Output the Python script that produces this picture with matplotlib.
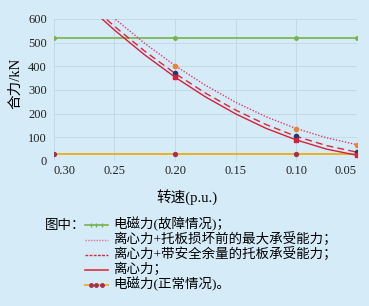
import matplotlib.pyplot as plt
from matplotlib.lines import Line2D

plt.rcParams['font.family'] = ['Liberation Serif', 'Noto Sans CJK SC']

# speed (p.u.) for the curves
speed = [0.27, 0.25, 0.225, 0.20, 0.175, 0.15, 0.125, 0.10, 0.075, 0.05]
centrifugal = [645, 553, 448, 354, 271, 199, 138, 89, 50, 24]
with_margin = [660, 569, 464, 370, 287, 215, 154, 104, 65, 37]
max_capacity = [694, 602, 497, 403, 320, 248, 187, 137, 98, 69]
mark_idx = [3, 7, 9]

# electromagnetic force
em_speed = [0.30, 0.20, 0.10, 0.05]
em_fault = [520, 520, 520, 520]
em_normal = [28, 28, 28, 28]

labels = ['电磁力(故障情况)；',
          '离心力+托板损坏前的最大承受能力；',
          '离心力+带安全余量的托板承受能力；',
          '离心力；',
          '电磁力(正常情况)。']

bg = '#d5ecf8'
green = '#78b24a'
W, H = 369, 306
fig = plt.figure(figsize=(3.69, 3.06), dpi=100, facecolor=bg)
ax = fig.add_axes([0.146, 0.474, 0.821, 0.464], facecolor=bg)

ax.plot(em_speed, em_fault, color=green, lw=1.2, marker='o', ms=2.5, zorder=3)
ax.plot(em_speed, em_normal, color='#f0a800', lw=1.2, marker='o', ms=2.8,
        mfc='#a8304c', mec='#a8304c', zorder=3)
ax.plot(speed, max_capacity, color='#d8406a', lw=1.0, ls=(0, (1, 1.2)),
        marker='o', ms=3, mfc='#e8823a', mec='#e8823a', markevery=mark_idx, zorder=4)
ax.plot(speed, with_margin, color='#d42a3c', lw=1.0, ls=(0, (5, 3)),
        marker='o', ms=3, mfc='#203a6e', mec='#203a6e', markevery=mark_idx, zorder=4)
ax.plot(speed, centrifugal, color='#d4203a', lw=1.0,
        marker='s', ms=3, mfc='#d4203a', mec='#d4203a', markevery=mark_idx, zorder=4)

ax.set_xlim(0.30, 0.05)
ax.set_ylim(0, 600)
ax.set_xticks([0.30, 0.25, 0.20, 0.15, 0.10, 0.05])
ax.set_xticklabels(['0.30', '0.25', '0.20', '0.15', '0.10', '0.05'])
ax.set_yticks(range(0, 601, 100))
ax.grid(True, color='#c2d9e6', lw=0.7)
for s in ax.spines.values():
    s.set_visible(False)
ax.tick_params(length=0, labelsize=9, colors='#222222')
ax.tick_params(axis='x', pad=3)
ax.tick_params(axis='y', pad=5)
xl = ax.get_xticklabels()
xl[0].set_ha('left')
xl[-1].set_ha('right')

ax.set_ylabel('合力/kN', fontsize=10.5)
ax.yaxis.set_label_coords(-0.106, 0.546)
ax.set_xlabel('转速(p.u.)', fontsize=10.5)
ax.xaxis.set_label_coords(0.44, -0.197)

# legend drawn by hand, one row per series
styles = [
    dict(color=green, lw=1.2, marker='|', ms=3, markevery=[1, 2, 3]),
    dict(color='#e07090', lw=1.0, ls=(0, (1, 1))),
    dict(color='#d42a3c', lw=1.0, ls=(0, (2, 1))),
    dict(color='#e03040', lw=1.2),
    dict(color='#f0b040', lw=1.5, marker='o', ms=2.5,
         mfc='#a8304c', mec='#a8304c', markevery=[1, 2, 3]),
]
rows = [224.5, 239.5, 254.5, 269.5, 284.5]
fig.text(45 / W, 1 - 226 / H, '图中：', fontsize=9.7, va='center', ha='left')
for y, lab, st in zip(rows, labels, styles):
    yf = 1 - y / H
    xs = [(85 + i * 23 / 4) / W for i in range(5)]
    fig.add_artist(Line2D(xs, [yf] * 5, transform=fig.transFigure, **st))
    fig.text(113 / W, yf, lab, fontsize=9.7, va='center', ha='left')

fig.savefig('out.png', dpi=100, facecolor=bg)
